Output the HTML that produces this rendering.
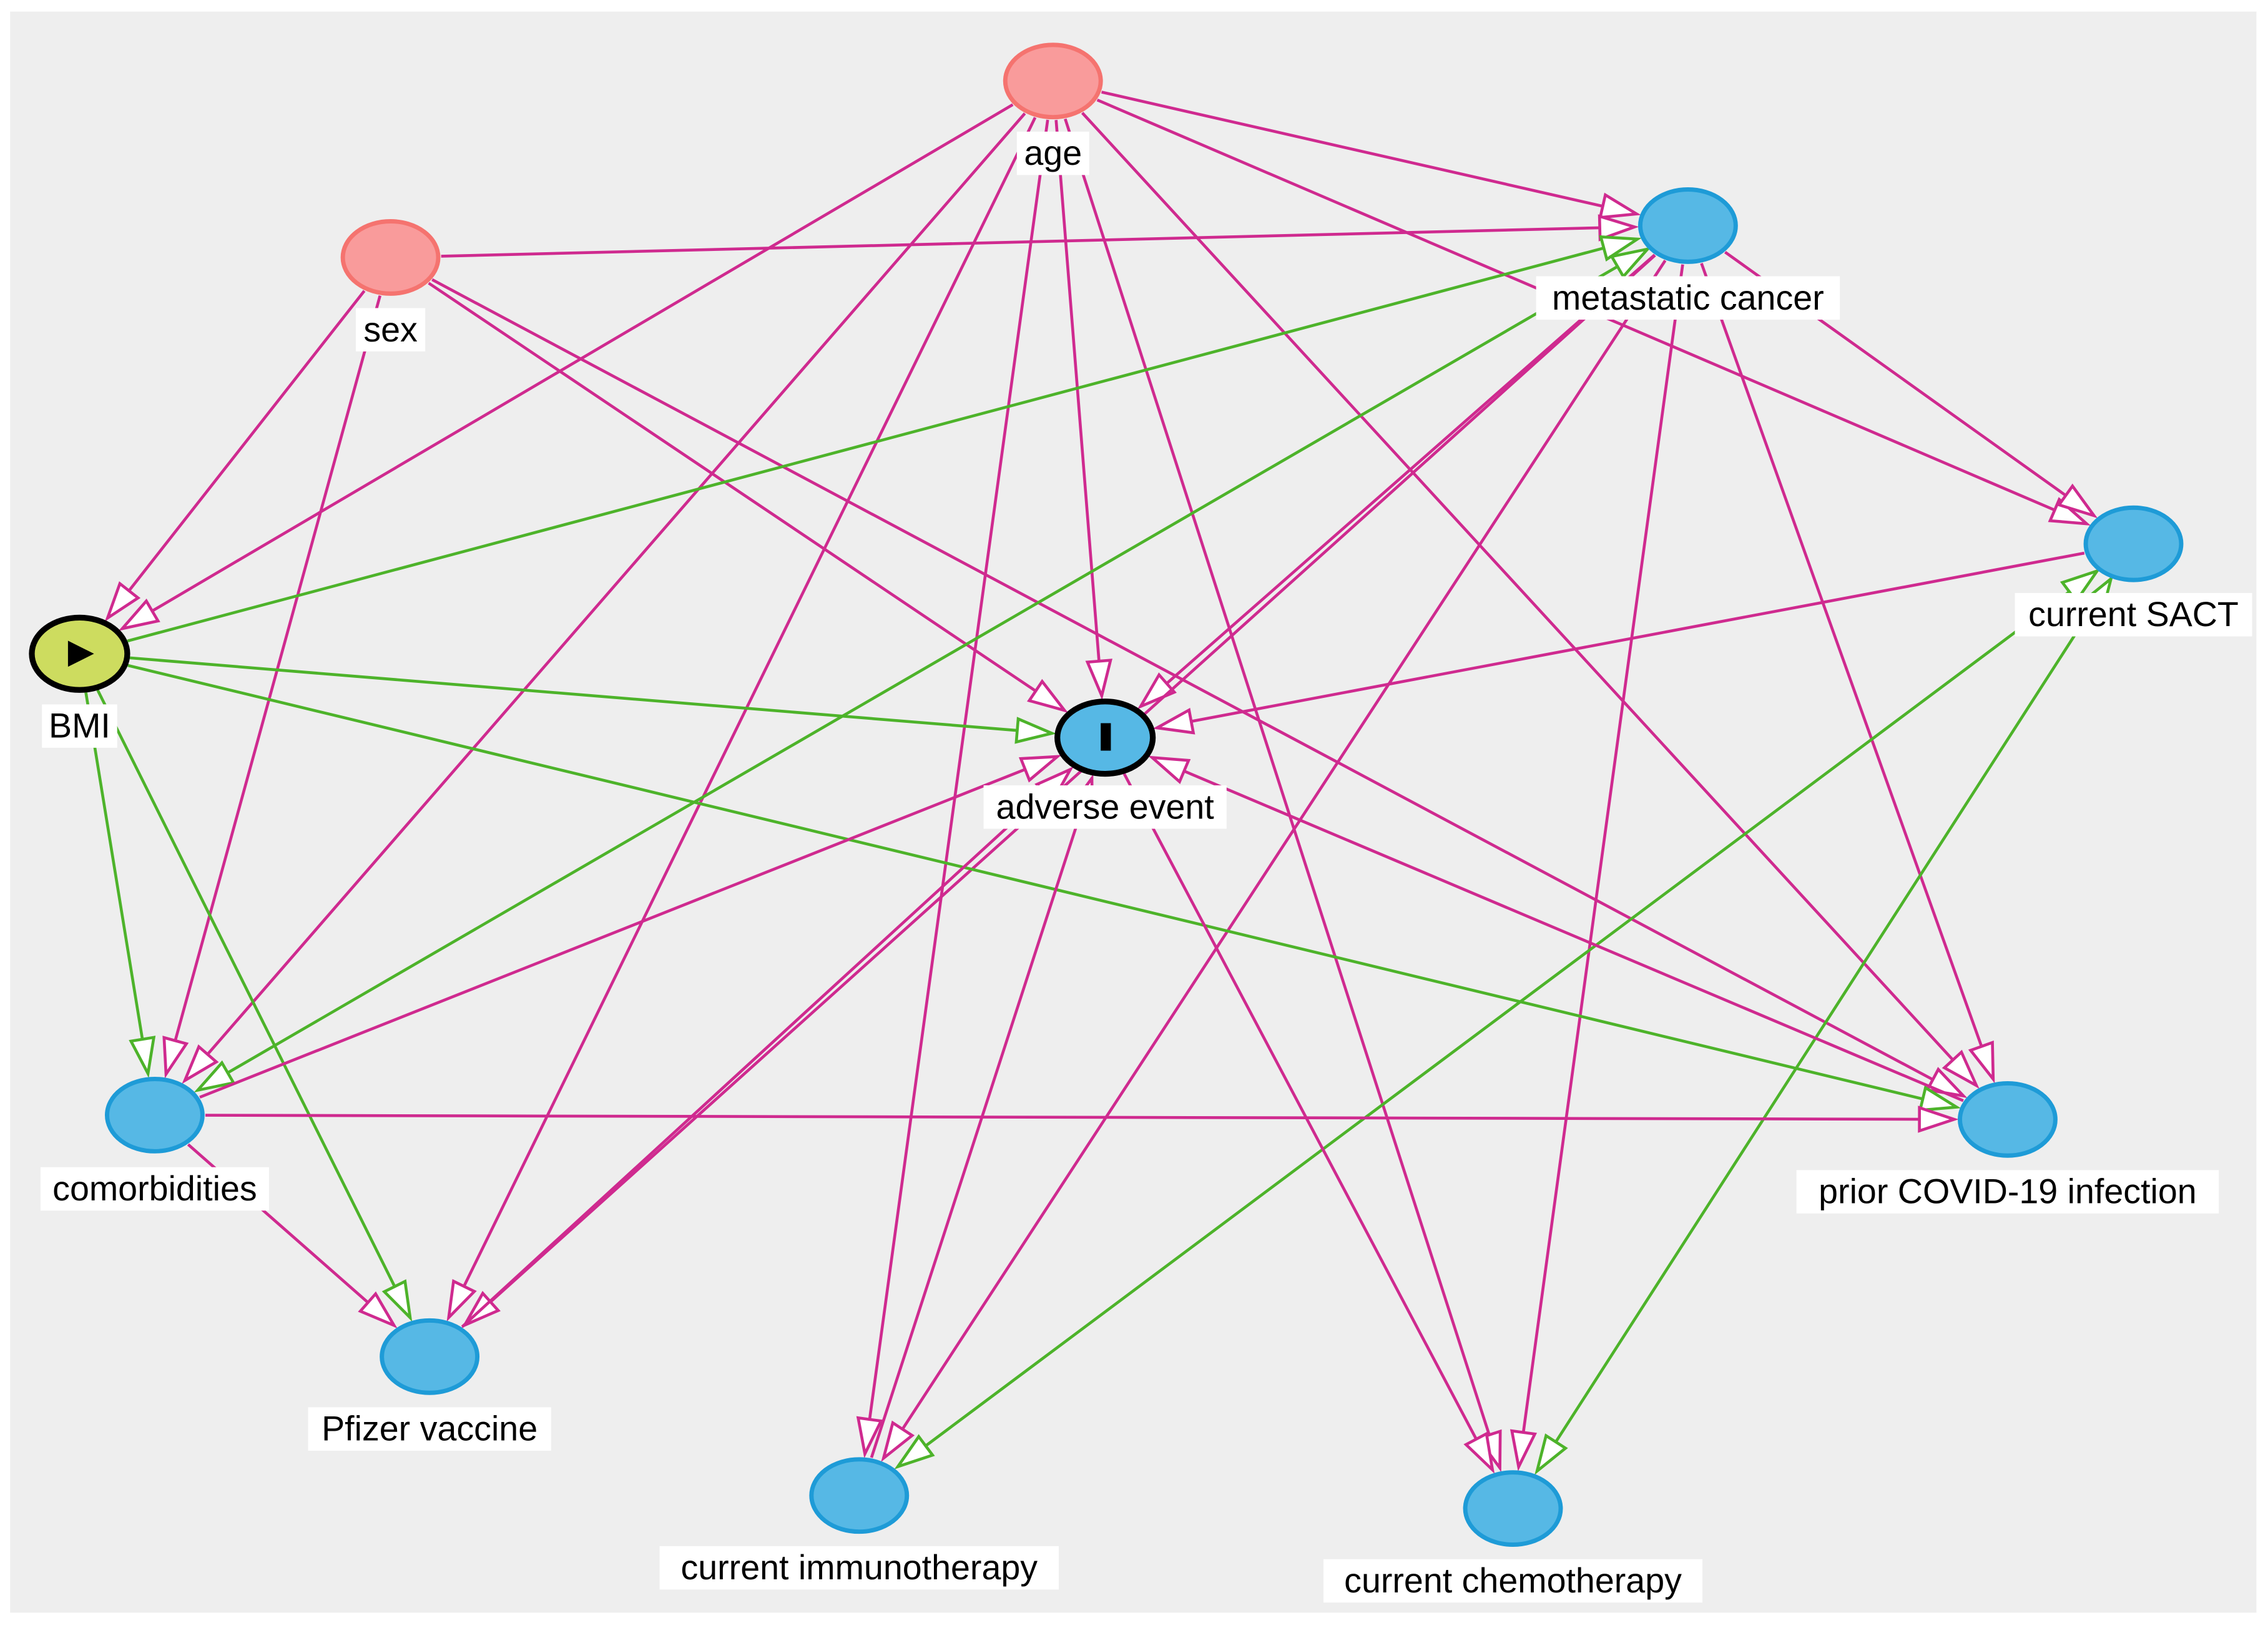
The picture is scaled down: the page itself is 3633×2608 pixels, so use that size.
<!DOCTYPE html>
<html><head><meta charset="utf-8"><style>
html,body{margin:0;padding:0;background:#fff;width:3633px;height:2608px;overflow:hidden}
svg{display:block}
text{font-family:"Liberation Sans",Arial,sans-serif;font-size:24px;fill:#000}
</style></head><body>
<svg id="s" width="3633" height="2608" viewBox="0 0 1568 1125.6" xmlns="http://www.w3.org/2000/svg">
<rect x="0" y="0" width="1568" height="1126" fill="#fff"/>
<rect x="7" y="8" width="1553" height="1107" fill="#eeeeee"/>
<g id="edges"></g>
<g id="nodes"></g>
<g id="labels">
<rect x="703" y="91" width="50" height="30" fill="#fff"/><text x="728" y="114" text-anchor="middle">age</text>
<rect x="246" y="213" width="48" height="30" fill="#fff"/><text x="270" y="236" text-anchor="middle">sex</text>
<rect x="1062" y="191" width="210" height="30" fill="#fff"/><text x="1167" y="214" text-anchor="middle">metastatic cancer</text>
<rect x="1393" y="410" width="164" height="30" fill="#fff"/><text x="1475" y="433" text-anchor="middle">current SACT</text>
<rect x="29" y="487" width="52" height="30" fill="#fff"/><text x="55" y="510" text-anchor="middle">BMI</text>
<rect x="680" y="543" width="168" height="30" fill="#fff"/><text x="764" y="566" text-anchor="middle">adverse event</text>
<rect x="28" y="807" width="158" height="30" fill="#fff"/><text x="107" y="830" text-anchor="middle">comorbidities</text>
<rect x="1242" y="809" width="292" height="30" fill="#fff"/><text x="1388" y="832" text-anchor="middle">prior COVID-19 infection</text>
<rect x="213" y="973" width="168" height="30" fill="#fff"/><text x="297" y="996" text-anchor="middle">Pfizer vaccine</text>
<rect x="456" y="1069" width="276" height="30" fill="#fff"/><text x="594" y="1092" text-anchor="middle">current immunotherapy</text>
<rect x="915" y="1078" width="262" height="30" fill="#fff"/><text x="1046" y="1101" text-anchor="middle">current chemotherapy</text>
</g>
</svg>
<script>
var N={age:[728,56,'p'],sex:[270,178,'p'],met:[1167,156,'b'],sact:[1475,376,'b'],bmi:[55,452,'e'],ae:[764,510,'o'],com:[107,771,'b'],cov:[1388,774,'b'],pf:[297,938,'b'],imm:[594,1034,'b'],chm:[1046,1043,'b']};
var P='#cf2a8f',G='#4db32a';
var E=[
['age','met',P],['age','sact',P],['age','bmi',P],['age','ae',P],['age','com',P],['age','pf',P],['age','imm',P],['age','chm',P],['age','cov',P],
['sex','met',P],['sex','bmi',P],['sex','com',P],['sex','ae',P],['sex','cov',P],
['met','sact',P],['met','ae',P],['met','imm',P],['met','chm',P],['met','cov',P],['met','pf',P],
['sact','ae',P],['sact','imm',G,1],['sact','chm',G,1],
['bmi','ae',G],['bmi','cov',G],['bmi','com',G],['bmi','pf',G],['bmi','met',G],
['met','com',G,1],
['com','ae',P],['com','cov',P],['com','pf',P],
['imm','ae',P],['pf','ae',P],['cov','ae',P],['ae','chm',P]];
var ns='http://www.w3.org/2000/svg';
function el(t,a,p){var e=document.createElementNS(ns,t);for(var k in a)e.setAttribute(k,a[k]);p.appendChild(e);return e;}
var eg=document.getElementById('edges'),ng=document.getElementById('nodes');
var RX=34,RY=26;
function bd(n,dx,dy){var L=Math.hypot(dx,dy);var ux=dx/L,uy=dy/L;var t=1/Math.sqrt(ux*ux/(RX*RX)+uy*uy/(RY*RY));return t;}
function arrow(x,y,ux,uy,c){var l=24,w=8;var bx=x-ux*l,by=y-uy*l;
el('polygon',{points:x+','+y+' '+(bx-uy*w)+','+(by+ux*w)+' '+(bx+uy*w)+','+(by-ux*w),fill:'#fff',stroke:c,'stroke-width':2},eg);}
E.forEach(function(e){var a=N[e[0]],b=N[e[1]];var dx=b[0]-a[0],dy=b[1]-a[1],L=Math.hypot(dx,dy),ux=dx/L,uy=dy/L;
var ta=bd(a,dx,dy)+1,tb=bd(b,dx,dy)+3;
var x1=a[0]+ux*ta,y1=a[1]+uy*ta,x2=b[0]-ux*tb,y2=b[1]-uy*tb;
el('line',{x1:x1,y1:y1,x2:x2,y2:y2,stroke:e[2],'stroke-width':2},eg);
arrow(x2,y2,ux,uy,e[2]);if(e[3])arrow(x1,y1,-ux,-uy,e[2]);});
for(var k in N){var n=N[k],f,s,w=3;
if(n[2]=='p'){f='#f99b9b';s='#f5736f';}else if(n[2]=='b'){f='#56b8e5';s='#1e9bd7';}else if(n[2]=='e'){f='#cddc5f';s='#000';w=4;}else{f='#56b8e5';s='#000';w=4;}
el('ellipse',{cx:n[0],cy:n[1],rx:RX-1,ry:RY-1,fill:f,stroke:s,'stroke-width':w},ng);}
el('polygon',{points:'47,443 47,461 65,452',fill:'#000'},ng);
el('rect',{x:761,y:500,width:7,height:19,fill:'#000'},ng);
</script>
</body></html>
